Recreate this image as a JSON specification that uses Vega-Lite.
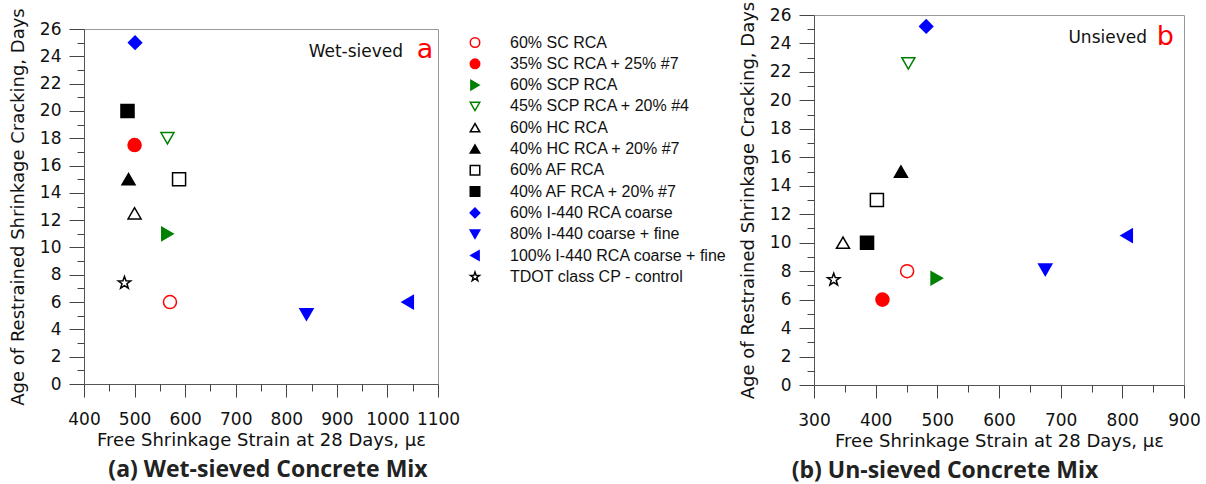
{
  "$schema": "https://vega.github.io/schema/vega-lite/v6.json",
  "background": "white",
  "padding": {"left": 8, "top": 0, "right": 5, "bottom": 0},
  "config": {
    "view": {"stroke": "#999", "strokeWidth": 1},
    "axis": {
      "grid": false,
      "labelFont": "DejaVu Sans", "labelFontSize": 17, "labelColor": "#111",
      "titleFont": "DejaVu Sans", "titleFontSize": 18, "titleFontWeight": "normal", "titleColor": "#111",
      "domainColor": "#555", "domainWidth": 1, "tickColor": "#444", "tickWidth": 1,
      "labelOverlap": false, "labelFlush": false
    },
    "title": {"font": "Open Sans", "fontSize": 23, "fontWeight": "bold", "color": "#222", "orient": "bottom", "anchor": "middle"}
  },
  "datasets": {
    "pts": [
      {"panel": "a", "series": "60% SC RCA", "strain": 570, "age": 6},
      {"panel": "a", "series": "35% SC RCA + 25% #7", "strain": 500, "age": 17.5},
      {"panel": "a", "series": "60% SCP RCA", "strain": 565, "age": 11},
      {"panel": "a", "series": "45% SCP RCA + 20% #4", "strain": 565, "age": 18},
      {"panel": "a", "series": "60% HC RCA", "strain": 500, "age": 12.5},
      {"panel": "a", "series": "40% HC RCA + 20% #7", "strain": 488, "age": 15},
      {"panel": "a", "series": "60% AF RCA", "strain": 588, "age": 15},
      {"panel": "a", "series": "40% AF RCA + 20% #7", "strain": 486, "age": 20},
      {"panel": "a", "series": "60% I-440  RCA coarse", "strain": 501, "age": 25},
      {"panel": "a", "series": "80% I-440 coarse + fine", "strain": 840, "age": 5.1},
      {"panel": "a", "series": "100% I-440 RCA coarse + fine", "strain": 1040, "age": 6},
      {"panel": "a", "series": "TDOT class CP - control", "strain": 480, "age": 7.4},
      {"panel": "b", "series": "60% SC RCA", "strain": 451, "age": 8},
      {"panel": "b", "series": "35% SC RCA + 25% #7", "strain": 411, "age": 6},
      {"panel": "b", "series": "60% SCP RCA", "strain": 499, "age": 7.5},
      {"panel": "b", "series": "45% SCP RCA + 20% #4", "strain": 453, "age": 22.6},
      {"panel": "b", "series": "60% HC RCA", "strain": 347, "age": 10},
      {"panel": "b", "series": "40% HC RCA + 20% #7", "strain": 441, "age": 15},
      {"panel": "b", "series": "60% AF RCA", "strain": 402, "age": 13},
      {"panel": "b", "series": "40% AF RCA + 20% #7", "strain": 386, "age": 10},
      {"panel": "b", "series": "60% I-440  RCA coarse", "strain": 482, "age": 25.2},
      {"panel": "b", "series": "80% I-440 coarse + fine", "strain": 675, "age": 8.1},
      {"panel": "b", "series": "100% I-440 RCA coarse + fine", "strain": 807, "age": 10.5},
      {"panel": "b", "series": "TDOT class CP - control", "strain": 332, "age": 7.4}
    ],
    "notes": [
      {"panel": "a", "kind": "label", "note": "Wet-sieved", "strain": 1031, "age": 23.95},
      {"panel": "a", "kind": "letter", "note": "a", "strain": 1058, "age": 23.85},
      {"panel": "b", "kind": "label", "note": "Unsieved", "strain": 840, "age": 24.0},
      {"panel": "b", "kind": "letter", "note": "b", "strain": 856, "age": 23.9}
    ],
    "empty": []
  },
  "concat": [
    {
      "vconcat": [
        {
          "width": 354,
          "height": 14,
          "view": {"stroke": null},
          "data": {"name": "empty"},
          "mark": "point",
          "encoding": {}
        },
        {
          "width": 354,
          "height": 355,
          "title": {"text": "(a) Wet-sieved Concrete Mix", "dx": 7, "offset": 10},
          "layer": [
            {
              "data": {"name": "pts"},
              "transform": [{"filter": "datum.panel === 'a'"}],
              "mark": {"type": "point", "size": 170, "strokeWidth": 1.5, "opacity": 1},
              "encoding": {
                "x": {
                  "field": "strain", "type": "quantitative",
                  "scale": {"domain": [400, 1100], "nice": false, "zero": false},
                  "axis": {
                    "orient": "bottom",
                    "title": "Free Shrinkage Strain at 28 Days, με",
                    "values": [400, 500, 600, 700, 800, 900, 1000, 1100],
                    "format": "d", "labelOverlap": false,
                    "tickSize": 13, "labelPadding": 14, "titlePadding": 4
                  }
                },
                "y": {
                  "field": "age", "type": "quantitative",
                  "scale": {"domain": [0, 26], "nice": false},
                  "axis": {
                    "orient": "left",
                    "title": "Age of Restrained Shrinkage Cracking, Days",
                    "values": [0, 2, 4, 6, 8, 10, 12, 14, 16, 18, 20, 22, 24, 26],
                    "format": "d", "labelOverlap": false,
                    "tickSize": 15, "labelPadding": 8, "titlePadding": 12
                  }
                },
                "shape": {
                  "field": "series", "type": "nominal",
                  "scale": {
                    "domain": ["60% SC RCA", "35% SC RCA + 25% #7", "60% SCP RCA", "45% SCP RCA + 20% #4", "60% HC RCA", "40% HC RCA + 20% #7", "60% AF RCA", "40% AF RCA + 20% #7", "60% I-440  RCA coarse", "80% I-440 coarse + fine", "100% I-440 RCA coarse + fine", "TDOT class CP - control"],
                    "range": ["circle", "circle", "triangle-right", "triangle-down", "triangle-up", "triangle-up", "square", "square", "diamond", "triangle-down", "triangle-left", "M0,-1L0.235,-0.324L0.951,-0.309L0.38,0.124L0.588,0.809L0,0.4L-0.588,0.809L-0.38,0.124L-0.951,-0.309L-0.235,-0.324Z"]
                  },
                  "legend": {
                    "title": null, "orient": "none", "legendX": 383, "legendY": 5.5, "padding": 0,
                    "symbolSize": 90, "symbolStrokeWidth": 1.5,
                    "labelFont": "Liberation Sans", "labelFontSize": 16, "labelColor": "#111",
                    "labelOffset": 27, "rowPadding": 5.3, "labelLimit": 400
                  }
                },
                "fill": {
                  "field": "series", "type": "nominal",
                  "scale": {
                    "domain": ["60% SC RCA", "35% SC RCA + 25% #7", "60% SCP RCA", "45% SCP RCA + 20% #4", "60% HC RCA", "40% HC RCA + 20% #7", "60% AF RCA", "40% AF RCA + 20% #7", "60% I-440  RCA coarse", "80% I-440 coarse + fine", "100% I-440 RCA coarse + fine", "TDOT class CP - control"],
                    "range": ["white", "#ff0000", "#008000", "white", "white", "black", "white", "black", "#0000ff", "#0000ff", "#0000ff", "white"]
                  }
                },
                "stroke": {
                  "field": "series", "type": "nominal",
                  "scale": {
                    "domain": ["60% SC RCA", "35% SC RCA + 25% #7", "60% SCP RCA", "45% SCP RCA + 20% #4", "60% HC RCA", "40% HC RCA + 20% #7", "60% AF RCA", "40% AF RCA + 20% #7", "60% I-440  RCA coarse", "80% I-440 coarse + fine", "100% I-440 RCA coarse + fine", "TDOT class CP - control"],
                    "range": ["#ff0000", "#ff0000", "#008000", "#008000", "black", "black", "black", "black", "#0000ff", "#0000ff", "#0000ff", "black"]
                  }
                }
              }
            },
            {
              "data": {"name": "notes"},
              "transform": [{"filter": "datum.panel === 'a' && datum.kind === 'label'"}],
              "mark": {"type": "text", "align": "right", "baseline": "alphabetic", "font": "DejaVu Sans", "fontSize": 17, "color": "#111"},
              "encoding": {
                "x": {"field": "strain", "type": "quantitative",
                  "axis": {"orient": "bottom", "values": [450, 550, 650, 750, 850, 950, 1050], "labels": false, "domain": false, "title": null, "tickSize": 7}},
                "y": {"field": "age", "type": "quantitative",
                  "axis": {"orient": "left", "values": [1, 3, 5, 7, 9, 11, 13, 15, 17, 19, 21, 23, 25], "labels": false, "domain": false, "title": null, "tickSize": 7}},
                "text": {"field": "note"}
              }
            },
            {
              "data": {"name": "notes"},
              "transform": [{"filter": "datum.panel === 'a' && datum.kind === 'letter'"}],
              "mark": {"type": "text", "align": "left", "baseline": "alphabetic", "font": "DejaVu Sans", "fontSize": 27, "color": "#ff0000"},
              "encoding": {
                "x": {"field": "strain", "type": "quantitative", "axis": null},
                "y": {"field": "age", "type": "quantitative", "axis": null},
                "text": {"field": "note"}
              }
            }
          ],
          "resolve": {"axis": {"x": "independent", "y": "independent"}}
        }
      ],
      "spacing": 0,
      "bounds": "flush",
      "resolve": {
        "scale": {"shape": "independent", "fill": "independent", "stroke": "independent"},
        "legend": {"shape": "independent", "fill": "independent", "stroke": "independent"}
      }
    },
    {
      "width": 370,
      "height": 370,
      "title": {"text": "(b) Un-sieved Concrete Mix", "dx": -54, "offset": 10},
      "layer": [
        {
          "data": {"name": "pts"},
          "transform": [{"filter": "datum.panel === 'b'"}],
          "mark": {"type": "point", "size": 170, "strokeWidth": 1.5, "opacity": 1},
          "encoding": {
            "x": {
              "field": "strain", "type": "quantitative",
              "scale": {"domain": [300, 900], "nice": false, "zero": false},
              "axis": {
                "orient": "bottom",
                "title": "Free Shrinkage Strain at 28 Days, με",
                "values": [300, 400, 500, 600, 700, 800, 900],
                "format": "d", "labelOverlap": false,
                "tickSize": 13, "labelPadding": 14, "titlePadding": 4
              }
            },
            "y": {
              "field": "age", "type": "quantitative",
              "scale": {"domain": [0, 26], "nice": false},
              "axis": {
                "orient": "left",
                "title": "Age of Restrained Shrinkage Cracking, Days",
                "values": [0, 2, 4, 6, 8, 10, 12, 14, 16, 18, 20, 22, 24, 26],
                "format": "d", "labelOverlap": false,
                "tickSize": 15, "labelPadding": 8, "titlePadding": 12
              }
            },
            "shape": {
              "field": "series", "type": "nominal", "legend": null,
              "scale": {
                "domain": ["60% SC RCA", "35% SC RCA + 25% #7", "60% SCP RCA", "45% SCP RCA + 20% #4", "60% HC RCA", "40% HC RCA + 20% #7", "60% AF RCA", "40% AF RCA + 20% #7", "60% I-440  RCA coarse", "80% I-440 coarse + fine", "100% I-440 RCA coarse + fine", "TDOT class CP - control"],
                "range": ["circle", "circle", "triangle-right", "triangle-down", "triangle-up", "triangle-up", "square", "square", "diamond", "triangle-down", "triangle-left", "M0,-1L0.235,-0.324L0.951,-0.309L0.38,0.124L0.588,0.809L0,0.4L-0.588,0.809L-0.38,0.124L-0.951,-0.309L-0.235,-0.324Z"]
              }
            },
            "fill": {
              "field": "series", "type": "nominal", "legend": null,
              "scale": {
                "domain": ["60% SC RCA", "35% SC RCA + 25% #7", "60% SCP RCA", "45% SCP RCA + 20% #4", "60% HC RCA", "40% HC RCA + 20% #7", "60% AF RCA", "40% AF RCA + 20% #7", "60% I-440  RCA coarse", "80% I-440 coarse + fine", "100% I-440 RCA coarse + fine", "TDOT class CP - control"],
                "range": ["white", "#ff0000", "#008000", "white", "white", "black", "white", "black", "#0000ff", "#0000ff", "#0000ff", "white"]
              }
            },
            "stroke": {
              "field": "series", "type": "nominal", "legend": null,
              "scale": {
                "domain": ["60% SC RCA", "35% SC RCA + 25% #7", "60% SCP RCA", "45% SCP RCA + 20% #4", "60% HC RCA", "40% HC RCA + 20% #7", "60% AF RCA", "40% AF RCA + 20% #7", "60% I-440  RCA coarse", "80% I-440 coarse + fine", "100% I-440 RCA coarse + fine", "TDOT class CP - control"],
                "range": ["#ff0000", "#ff0000", "#008000", "#008000", "black", "black", "black", "black", "#0000ff", "#0000ff", "#0000ff", "black"]
              }
            }
          }
        },
        {
          "data": {"name": "notes"},
          "transform": [{"filter": "datum.panel === 'b' && datum.kind === 'label'"}],
          "mark": {"type": "text", "align": "right", "baseline": "alphabetic", "font": "DejaVu Sans", "fontSize": 17, "color": "#111"},
          "encoding": {
            "x": {"field": "strain", "type": "quantitative",
              "axis": {"orient": "bottom", "values": [350, 450, 550, 650, 750, 850], "labels": false, "domain": false, "title": null, "tickSize": 7}},
            "y": {"field": "age", "type": "quantitative",
              "axis": {"orient": "left", "values": [1, 3, 5, 7, 9, 11, 13, 15, 17, 19, 21, 23, 25], "labels": false, "domain": false, "title": null, "tickSize": 7}},
            "text": {"field": "note"}
          }
        },
        {
          "data": {"name": "notes"},
          "transform": [{"filter": "datum.panel === 'b' && datum.kind === 'letter'"}],
          "mark": {"type": "text", "align": "left", "baseline": "alphabetic", "font": "DejaVu Sans", "fontSize": 27, "color": "#ff0000"},
          "encoding": {
            "x": {"field": "strain", "type": "quantitative", "axis": null},
            "y": {"field": "age", "type": "quantitative", "axis": null},
            "text": {"field": "note"}
          }
        }
      ],
      "resolve": {"axis": {"x": "independent", "y": "independent"}}
    }
  ],
  "columns": 2,
  "align": "none",
  "bounds": "full",
  "spacing": 10,
  "resolve": {
    "scale": {"shape": "independent", "fill": "independent", "stroke": "independent"},
    "legend": {"shape": "independent", "fill": "independent", "stroke": "independent"}
  }
}
